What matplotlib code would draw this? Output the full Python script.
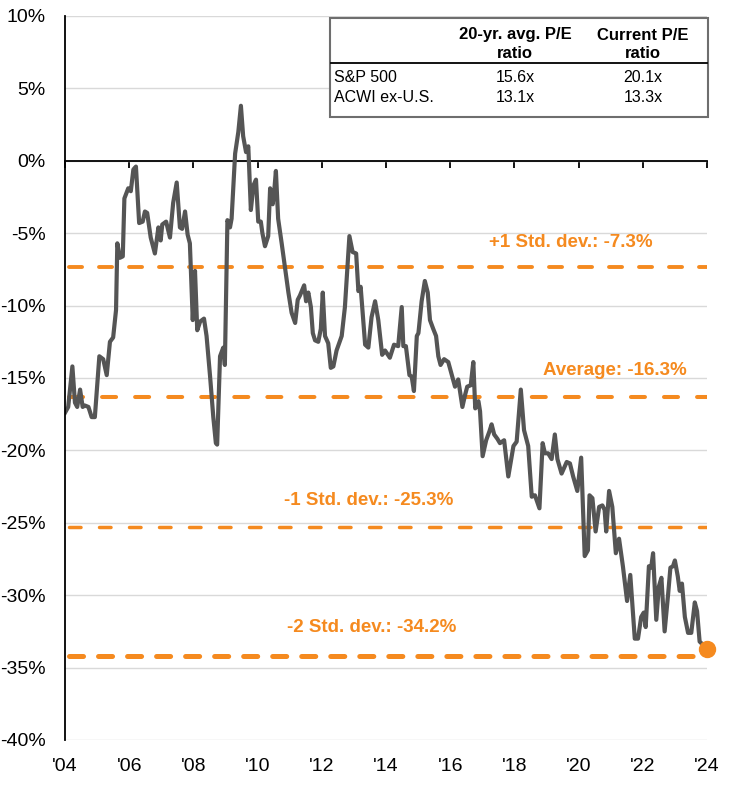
import matplotlib
matplotlib.use("Agg")
import matplotlib.pyplot as plt
from matplotlib.patches import Rectangle
from matplotlib.lines import Line2D

plt.rcParams['font.family'] = ['Liberation Sans', 'DejaVu Sans']
plt.rcParams['lines.scale_dashes'] = False

# ---------------- data ----------------
years = [2004.00, 2004.10, 2004.23, 2004.31, 2004.38, 2004.47, 2004.55, 2004.62, 2004.73, 2004.83,
         2004.93, 2005.07, 2005.19, 2005.30, 2005.40, 2005.50, 2005.59, 2005.63, 2005.71, 2005.80,
         2005.85, 2005.97, 2006.05, 2006.13, 2006.21, 2006.31, 2006.42, 2006.49, 2006.56, 2006.67,
         2006.80, 2006.91, 2006.98, 2007.03, 2007.15, 2007.27, 2007.37, 2007.48, 2007.58, 2007.65,
         2007.74, 2007.82, 2007.89, 2007.98, 2008.05, 2008.12, 2008.21, 2008.33, 2008.41, 2008.52,
         2008.62, 2008.70, 2008.74, 2008.83, 2008.93, 2008.98, 2009.06, 2009.14, 2009.19, 2009.30,
         2009.40, 2009.48, 2009.55, 2009.64, 2009.71, 2009.79, 2009.87, 2009.95, 2010.02, 2010.10,
         2010.15, 2010.23, 2010.33, 2010.39, 2010.47, 2010.51, 2010.57, 2010.64, 2010.75, 2010.85,
         2010.96, 2011.06, 2011.17, 2011.25, 2011.32, 2011.45, 2011.51, 2011.58, 2011.66, 2011.72,
         2011.79, 2011.89, 2011.97, 2012.03, 2012.10, 2012.20, 2012.28, 2012.36, 2012.46, 2012.62,
         2012.72, 2012.86, 2012.96, 2013.07, 2013.14, 2013.21, 2013.35, 2013.45, 2013.55, 2013.66,
         2013.76, 2013.88, 2013.97, 2014.12, 2014.25, 2014.38, 2014.49, 2014.54, 2014.62, 2014.73,
         2014.80, 2014.87, 2014.96, 2015.01, 2015.11, 2015.21, 2015.30, 2015.37, 2015.47, 2015.56,
         2015.63, 2015.70, 2015.81, 2015.94, 2016.05, 2016.15, 2016.25, 2016.38, 2016.46, 2016.53,
         2016.64, 2016.72, 2016.78, 2016.88, 2016.93, 2017.01, 2017.12, 2017.22, 2017.29, 2017.37,
         2017.47, 2017.55, 2017.68, 2017.81, 2017.97, 2018.07, 2018.20, 2018.30, 2018.43, 2018.54,
         2018.64, 2018.78, 2018.88, 2018.95, 2019.05, 2019.16, 2019.26, 2019.34, 2019.47, 2019.63,
         2019.73, 2019.83, 2019.96, 2020.08, 2020.19, 2020.29, 2020.34, 2020.43, 2020.53, 2020.64,
         2020.74, 2020.81, 2020.86, 2020.95, 2021.05, 2021.16, 2021.26, 2021.38, 2021.51, 2021.61,
         2021.75, 2021.85, 2021.95, 2022.03, 2022.09, 2022.19, 2022.26, 2022.32, 2022.42, 2022.50,
         2022.58, 2022.68, 2022.79, 2022.86, 2022.94, 2023.00, 2023.09, 2023.15, 2023.22, 2023.31,
         2023.41, 2023.51, 2023.62, 2023.69, 2023.77, 2024.00]

discount = [-17.4, -17.0, -14.2, -16.7, -17.0, -15.8, -17.0, -16.9, -17.0, -17.7,
            -17.7, -13.5, -13.7, -14.8, -12.5, -12.2, -10.3, -5.7, -6.7, -6.6,
            -2.6, -1.9, -2.1, -0.6, -0.4, -4.3, -4.2, -3.5, -3.6, -5.3,
            -6.4, -4.6, -5.5, -4.4, -4.2, -5.3, -2.9, -1.5, -4.6, -4.7,
            -3.5, -5.1, -5.7, -11.0, -7.6, -11.7, -11.1, -10.9, -12.1, -14.9,
            -17.7, -19.5, -19.6, -13.5, -12.9, -14.1, -4.1, -4.6, -4.0, 0.5,
            2.0, 3.8, 1.7, 0.6, 1.0, -3.4, -1.7, -1.3, -4.2, -4.2,
            -5.0, -5.9, -5.2, -1.9, -3.0, -2.3, -0.7, -4.0, -5.7, -7.3,
            -9.1, -10.5, -11.2, -9.6, -9.3, -8.6, -9.7, -9.1, -10.1, -11.9,
            -12.4, -12.5, -11.6, -9.1, -12.1, -12.6, -14.3, -14.2, -13.1, -12.1,
            -10.1, -5.2, -6.3, -6.4, -9.0, -8.7, -12.7, -12.9, -10.8, -9.7,
            -11.0, -13.4, -13.1, -13.6, -12.7, -12.8, -10.1, -12.8, -12.8, -14.8,
            -14.9, -15.9, -12.1, -11.9, -9.7, -8.3, -9.1, -11.0, -11.6, -12.1,
            -13.5, -14.1, -13.7, -13.9, -14.8, -15.6, -15.1, -17.0, -16.2, -15.6,
            -15.5, -13.9, -17.1, -16.6, -17.3, -20.4, -19.3, -18.7, -18.2, -18.9,
            -19.2, -19.5, -19.3, -21.8, -19.7, -19.4, -15.8, -18.6, -19.7, -23.2,
            -23.1, -24.0, -19.5, -20.2, -20.2, -20.6, -18.9, -20.6, -21.6, -20.8,
            -20.9, -21.8, -22.8, -20.5, -27.3, -26.9, -23.1, -23.3, -25.6, -23.9,
            -23.8, -24.1, -25.6, -22.8, -23.9, -27.1, -26.1, -28.0, -30.4, -28.6,
            -33.0, -33.0, -31.5, -31.2, -32.2, -28.0, -28.1, -27.1, -31.7, -29.4,
            -28.8, -32.5, -29.9, -28.1, -28.0, -27.6, -28.7, -29.7, -29.2, -31.5,
            -32.6, -32.6, -30.5, -31.1, -33.2, -33.7]

level_names = ['+1 Std. dev.: -7.3%', 'Average: -16.3%', '-1 Std. dev.: -25.3%', '-2 Std. dev.: -34.2%']
level_values = [-7.3, -16.3, -25.3, -34.2]

xtick_years = list(range(2004, 2025, 2))
xtick_labels = ["'04", "'06", "'08", "'10", "'12", "'14", "'16", "'18", "'20", "'22", "'24"]
ytick_values = list(range(-40, 11, 5))
ytick_labels = [f"{v}%" for v in ytick_values]

table_cols = ['20-yr. avg. P/E\nratio', 'Current P/E\nratio']
table_rows = ['S&P 500', 'ACWI ex-U.S.']
table_avg_pe = ['15.6x', '13.1x']
table_cur_pe = ['20.1x', '13.3x']

# ---------------- style ----------------
ORANGE = '#F58A1F'
GRAY = '#555555'

fig = plt.figure(figsize=(7.30, 7.96), dpi=100)
ax = fig.add_axes([65/730, 1-740/796, 642/730, 724/796])
ax.set_xlim(2004, 2024)
ax.set_ylim(-40, 10)

ax.set_yticks(ytick_values)
ax.set_yticklabels(ytick_labels, fontsize=14)
ax.tick_params(axis='y', length=0, pad=14)
ax.yaxis.grid(True, color='#D9D9D9', lw=1.0, zorder=0)
ax.set_axisbelow(True)

for s in ['top', 'right']:
    ax.spines[s].set_visible(False)
ax.spines['left'].set_linewidth(1.3)
ax.spines['left'].set_zorder(5)
ax.spines['bottom'].set_position(('data', 0))
ax.spines['bottom'].set_linewidth(1.3)
ax.set_xticks(xtick_years)
ax.tick_params(axis='x', length=5, width=1.3, direction='out', labelbottom=False)

sec = ax.secondary_xaxis('bottom')
sec.set_xticks(xtick_years)
sec.set_xticklabels(xtick_labels, fontsize=14)
sec.tick_params(length=0, pad=13)
sec.spines['bottom'].set_visible(False)

# level lines
styles = [
    dict(lw=2.8, ls=(0, (9.4, 12.2))),
    dict(lw=2.9, ls=(0, (10.1, 13.7))),
    dict(lw=2.5, ls=(0, (8.3, 13.3))),
    dict(lw=3.6, ls=(0, (10.1, 10.8))),
]
for val, st in zip(level_values, styles):
    ax.hlines(val, 2004.12, 2024, colors=ORANGE, linewidth=st['lw'], linestyles=[st['ls']],
              capstyle='round', zorder=3)

label_pos = [(2019.76, -5.66), (2021.13, -14.50), (2013.47, -23.48), (2013.56, -32.25)]
for name, (lx, ly) in zip(level_names, label_pos):
    ax.text(lx, ly, name, color=ORANGE, fontsize=13.5, fontweight='bold',
            ha='center', va='center', zorder=6)

ax.plot(years, discount, color=GRAY, lw=3.0, zorder=4, solid_joinstyle='round')
ax.plot([years[-1]], [discount[-1]], 'o', color=ORANGE, markersize=11.5, zorder=7, clip_on=False)

# ---------------- table ----------------
def ax_x(px):
    return (px - 65) / 642

def ax_y(py):
    return (740 - py) / 724

box = Rectangle((ax_x(330), ax_y(117)), ax_x(708) - ax_x(330), ax_y(18) - ax_y(117),
                transform=ax.transAxes, facecolor='white', edgecolor='#6E6E6E',
                linewidth=1.5, zorder=8, clip_on=False)
ax.add_patch(box)
ax.add_line(Line2D([ax_x(331), ax_x(707)], [ax_y(63), ax_y(63)], transform=ax.transAxes,
                   color='black', lw=1.3, zorder=9, clip_on=False))
col_x = [ax_x(515), ax_x(643)]
for cx, head in zip(col_x, table_cols):
    ax.text(cx, ax_y(44), head, transform=ax.transAxes, ha='center', va='center',
            fontsize=12, fontweight='bold', linespacing=1.25, zorder=10)
row_y = [ax_y(78), ax_y(98)]
for ry, rname, a, c in zip(row_y, table_rows, table_avg_pe, table_cur_pe):
    ax.text(ax_x(334), ry, rname, transform=ax.transAxes, ha='left', va='center',
            fontsize=11.5, zorder=10)
    ax.text(col_x[0], ry, a, transform=ax.transAxes, ha='center', va='center',
            fontsize=11.5, zorder=10)
    ax.text(col_x[1], ry, c, transform=ax.transAxes, ha='center', va='center',
            fontsize=11.5, zorder=10)

fig.savefig('out.png', dpi=100)
